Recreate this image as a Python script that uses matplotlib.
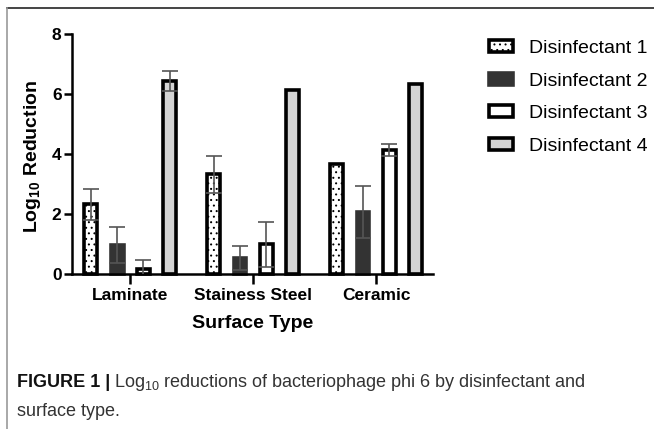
import numpy as np
import matplotlib
matplotlib.use("Agg")
import matplotlib.pyplot as plt
from matplotlib.patches import Patch
from matplotlib.lines import Line2D

plt.rcParams['font.family'] = ['Liberation Sans', 'DejaVu Sans']
plt.rcParams['mathtext.fontset'] = 'custom'
plt.rcParams['mathtext.rm'] = 'Liberation Sans'
plt.rcParams['mathtext.bf'] = 'Liberation Sans:bold'
plt.rcParams['hatch.linewidth'] = 0.7

# データ
surfaces = ['Laminate', 'Stainess Steel', 'Ceramic']
series = ['Disinfectant 1', 'Disinfectant 2', 'Disinfectant 3', 'Disinfectant 4']
d1 = [2.32, 3.33, 3.67]
d2 = [0.97, 0.53, 2.08]
d3 = [0.16, 0.99, 4.14]
d4 = [6.44, 6.15, 6.32]
e1 = [0.51, 0.62, 0.0]
e2 = [0.60, 0.41, 0.87]
e3 = [0.31, 0.74, 0.19]
e4 = [0.33, 0.0, 0.0]
yticks = [0, 2, 4, 6, 8]

values = [d1, d2, d3, d4]
errors = [e1, e2, e3, e4]

# スタイル
faces = ['white', '#333333', 'white', '#d4d4d4']
edges = ['black', '#333333', 'black', 'black']
hatches = ['...', None, None, None]
offsets = [-0.322, -0.107, 0.107, 0.322]
width = 0.104
edge_lw = 2.6

fig = plt.figure(figsize=(6.54, 4.29), dpi=100)
ax = fig.add_axes([72 / 654, 1 - 274 / 429, (433 - 72) / 654, 240 / 429])

x = np.arange(len(surfaces))
for i in range(len(series)):
    ax.bar(x + offsets[i], values[i], width, color=faces[i], edgecolor=edges[i],
           linewidth=edge_lw, hatch=hatches[i], zorder=2, clip_on=False)
    err = np.array(errors[i])
    mask = err > 0
    ax.errorbar((x + offsets[i])[mask], np.array(values[i])[mask], yerr=err[mask],
                fmt='none', ecolor='#555555', elinewidth=1.2, capsize=6,
                capthick=1.2, zorder=3)

ax.set_xlim(-0.474, 2.463)
ax.set_ylim(0, 8)
ax.set_yticks(yticks)
ax.set_xticks(x)
ax.set_xticklabels(surfaces, fontsize=12.5, fontweight='bold')
for lab in ax.get_yticklabels():
    lab.set_fontsize(12.5)
    lab.set_fontweight('bold')

for s in ['top', 'right']:
    ax.spines[s].set_visible(False)
for s in ['left', 'bottom']:
    ax.spines[s].set_linewidth(1.8)
ax.tick_params(axis='y', length=6, width=1.8, pad=1.5)
ax.tick_params(axis='x', length=7, width=1.8, pad=3)

ax.set_xlabel('Surface Type', fontsize=14, fontweight='bold', labelpad=9)
ax.set_ylabel(r'Log$_\mathbf{10}$ Reduction', fontsize=14, fontweight='bold')
ax.yaxis.set_label_coords(-0.08, 0.49)

# 凡例
handles = [Patch(facecolor=faces[i], edgecolor=edges[i], linewidth=edge_lw,
                 hatch=hatches[i]) for i in range(len(series))]
fig.legend(handles, series, loc='upper left', bbox_to_anchor=(489 / 654, 1 - 40 / 429),
           frameon=False, fontsize=14, handlelength=1.25, handleheight=0.55,
           handletextpad=0.8, labelspacing=0.8, borderpad=0, borderaxespad=0)

# 枠線
fig.add_artist(Line2D([7 / 654, 1], [1 - 8 / 429, 1 - 8 / 429], color='#444444',
                      linewidth=1.4, transform=fig.transFigure))
fig.add_artist(Line2D([7 / 654, 7 / 654], [0, 1 - 8 / 429], color='#999999',
                      linewidth=1.2, transform=fig.transFigure))

# キャプション
renderer = fig.canvas.get_renderer()
y1 = 1 - 387 / 429
y2 = 1 - 416 / 429
t = fig.text(17 / 654, y1, 'FIGURE 1 |', fontsize=13, fontweight='bold',
             color='#111111', va='baseline')
bb = t.get_window_extent(renderer)
fig.text((bb.x1 + 4) / 654, y1,
         r'Log$_{10}$ reductions of bacteriophage phi 6 by disinfectant and',
         fontsize=13, color='#333333', va='baseline')
fig.text(17 / 654, y2, 'surface type.', fontsize=13, color='#333333', va='baseline')

fig.savefig('out.png', dpi=100)
